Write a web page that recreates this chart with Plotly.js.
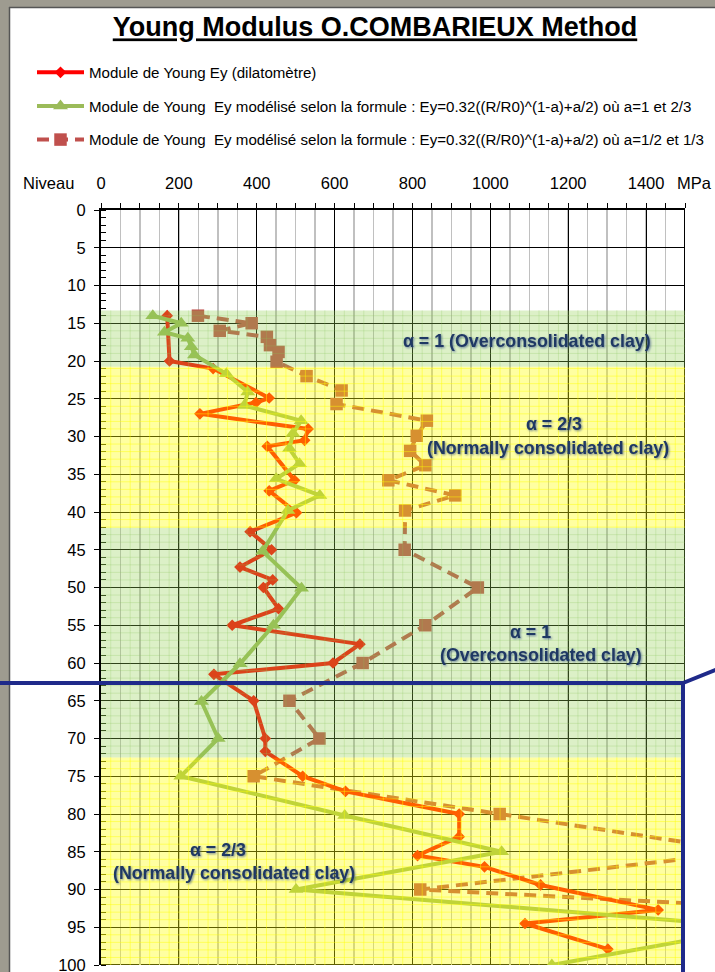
<!DOCTYPE html>
<html>
<head>
<meta charset="utf-8">
<script src="https://cdn.plot.ly/plotly-3.0.1.min.js"></script>
<style>
  html, body { margin: 0; padding: 0; width: 715px; height: 972px; overflow: hidden; background: #ffffff; }
  #chart { position: absolute; left: 0; top: 0; width: 715px; height: 972px; }
</style>
</head>
<body>
<div id="chart"></div>
<script>
// Depth (m) and Young modulus (MPa) for each series
const dilatoDepth = [14, 20, 21, 24.9, 25.5, 27, 29, 30.5, 31.3, 35.8, 37.2, 40.1, 42.6, 45, 47.3, 49, 50, 52.8, 55, 57.5, 60, 61.5, 65, 70, 71.7, 75, 77, 80, 83, 85.5, 87, 89.4, 92.7, 94.5, 97.9];
const dilatoE     = [170, 176, 288, 432, 398, 254, 532, 523, 427, 497, 432, 502, 383, 438, 357, 441, 417, 456, 337, 665, 596, 290, 392, 422, 422, 518, 628, 920, 920, 813, 985, 1129, 1431, 1089, 1302];

const model1Depth = [14, 15, 16.2, 17, 18.1, 19.2, 21.7, 24.1, 25.9, 27.9, 29.6, 31.6, 33.6, 35.6, 37.8, 39.8, 45.2, 50.1, 55, 60.1, 65.1, 70, 75, 80.2, 85, 90, 95, 100];
const model1E     = [133, 206, 163, 223, 232, 240, 322, 377, 368, 514, 493, 484, 510, 450, 562, 480, 415, 515, 443, 357, 258, 301, 205, 626, 1029, 501, 1690, 1158];

const model2Depth = [14, 15, 16, 16.8, 17.9, 18.8, 20.1, 22, 23.9, 25.7, 27.9, 29.9, 31.9, 33.8, 35.8, 37.8, 39.8, 45, 50, 55, 60, 65, 70, 75, 80, 85, 90, 95];
const model2E     = [249, 387, 305, 426, 434, 456, 451, 528, 618, 605, 837, 811, 794, 833, 738, 910, 781, 780, 968, 833, 672, 484, 561, 392, 1024, 1660, 820, 2700];

const seriesNames = [
  'Module de Young Ey (dilatomètre)',
  'Module de Young\u00a0 Ey modélisé selon la formule : Ey=0.32((R/R0)^(1-a)+a/2) où a=1 et 2/3',
  'Module de Young\u00a0 Ey modélisé selon la formule : Ey=0.32((R/R0)^(1-a)+a/2) où a=1/2 et 1/3'
];

// Soil layers (depth limits)
const layerTop    = [13.3, 20.75, 42.1, 72.5];
const layerBottom = [20.75, 42.1, 72.5, 100];
const layerKind   = ['over', 'normal', 'over', 'normal'];

const xTickVals = [0, 200, 400, 600, 800, 1000, 1200, 1400];

// ---- page geometry ----
const W = 715, H = 972, ML = 101, MR = 30, MT = 210, MB = 7;
const PW = W - ML - MR, PH = H - MT - MB;
const px = X => (X - ML) / PW;
const py = Y => 1 - (Y - MT) / PH;

const FONT = '"Liberation Sans", Arial, sans-serif';
const NAVY = '#1f3864';

const traces = [
  {
    x: model2E, y: model2Depth, name: seriesNames[2], mode: 'lines+markers',
    line: { color: '#c0504d', width: 4, dash: '12px,7px' },
    marker: { symbol: 'square', size: 12.5, color: '#c0504d' },
    legendrank: 3, legendgroup: 'c', cliponaxis: true
  },
  {
    x: dilatoE, y: dilatoDepth, name: seriesNames[0], mode: 'lines+markers',
    line: { color: '#ff0000', width: 4 },
    marker: { symbol: 'diamond', size: 9, color: '#ff0000' },
    legendrank: 1, legendgroup: 'a', cliponaxis: true
  },
  {
    x: model1E, y: model1Depth, name: seriesNames[1], mode: 'lines+markers',
    line: { color: '#9bbb59', width: 4 },
    marker: { symbol: 'triangle-up', size: 13, color: '#9bbb59' },
    legendrank: 2, legendgroup: 'b', cliponaxis: true
  }
];

const shapes = [];

// frame of the sheet around the chart
shapes.push({ type: 'rect', xref: 'paper', yref: 'paper', x0: px(-5), x1: px(9), y0: py(980), y1: py(-5), fillcolor: '#9e9b90', line: { width: 0 }, layer: 'below' });
shapes.push({ type: 'rect', xref: 'paper', yref: 'paper', x0: px(-5), x1: px(720), y0: py(7), y1: py(-5), fillcolor: '#9e9b90', line: { width: 0 }, layer: 'below' });
shapes.push({ type: 'line', xref: 'paper', yref: 'paper', x0: px(9.5), x1: px(9.5), y0: py(980), y1: py(7), line: { color: '#555', width: 1.5 }, layer: 'below' });
shapes.push({ type: 'line', xref: 'paper', yref: 'paper', x0: px(9), x1: px(720), y0: py(7.5), y1: py(7.5), line: { color: '#555', width: 1.5 }, layer: 'below' });

// plot border (right and bottom)
shapes.push({ type: 'line', xref: 'x', yref: 'y', x0: 1500, x1: 1500, y0: 0, y1: 100, line: { color: '#000', width: 2 }, layer: 'below' });
shapes.push({ type: 'line', xref: 'x', yref: 'y', x0: 0, x1: 1500, y0: 100, y1: 100, line: { color: '#000', width: 2 }, layer: 'below' });

// translucent layer bands with their fine texture
layerTop.forEach((t, i) => {
  const b = layerBottom[i];
  const normal = layerKind[i] === 'normal';
  shapes.push({
    type: 'rect', xref: 'x', yref: 'y', x0: 0, x1: 1500, y0: t, y1: b,
    fillcolor: normal ? 'rgba(255,255,0,0.37)' : 'rgba(146,208,80,0.32)',
    line: { width: 0 }, layer: 'above'
  });
  const tex = normal ? 'rgba(255,255,0,0.45)' : 'rgba(140,200,90,0.25)';
  for (let v = 25; v < 1500; v += 50) {
    shapes.push({ type: 'line', xref: 'x', yref: 'y', x0: v, x1: v, y0: t, y1: b, line: { color: tex, width: 1 }, layer: 'above' });
  }
  for (let d = Math.ceil(t); d < b; d += 1) {
    if (d % 5 === 0) continue;
    shapes.push({ type: 'line', xref: 'x', yref: 'y', x0: 0, x1: 1500, y0: d, y1: d, line: { color: tex, width: 1 }, layer: 'above' });
  }
});

// navy callout frame
const CALL = '#1f2a8a';
shapes.push({ type: 'line', xref: 'paper', yref: 'paper', x0: px(-5), x1: px(683), y0: py(683), y1: py(683), line: { color: CALL, width: 4 }, layer: 'above' });
shapes.push({ type: 'line', xref: 'paper', yref: 'paper', x0: px(683), x1: px(683), y0: py(683), y1: py(985), line: { color: CALL, width: 4 }, layer: 'above' });
shapes.push({ type: 'line', xref: 'paper', yref: 'paper', x0: px(683), x1: px(760), y0: py(683), y1: py(652), line: { color: CALL, width: 4 }, layer: 'above' });

// layer labels
const labels = [
  { t: 'α = 1 (Overconsolidated clay)', x: 1094, y: 17.35 },
  { t: 'α = 2/3', x: 1164, y: 28.3 },
  { t: '(Normally consolidated clay)', x: 1148, y: 31.5 },
  { t: 'α = 1', x: 1102, y: 55.9 },
  { t: '(Overconsolidated clay)', x: 1130, y: 58.9 },
  { t: 'α = 2/3', x: 300, y: 84.8 },
  { t: '(Normally consolidated clay)', x: 342, y: 87.8 }
];
const annotations = labels.map(l => ({
  xref: 'x', yref: 'y', x: l.x, y: l.y, text: '<b>' + l.t + '</b>', showarrow: false,
  xanchor: 'center', yanchor: 'middle',
  font: { family: FONT, size: 17.8, color: NAVY }
}));
const labelCount = annotations.length;
annotations.push({ xref: 'paper', yref: 'paper', x: px(48), y: py(183), xanchor: 'center', yanchor: 'middle', text: 'Niveau', showarrow: false, font: { family: FONT, size: 16.5, color: '#000' } });
annotations.push({ xref: 'paper', yref: 'paper', x: px(694), y: py(183), xanchor: 'center', yanchor: 'middle', text: 'MPa', showarrow: false, font: { family: FONT, size: 16.5, color: '#000' } });

const layout = {
  width: W, height: H,
  margin: { l: ML, r: MR, t: MT, b: MB, pad: 0, autoexpand: false },
  paper_bgcolor: '#ffffff', plot_bgcolor: '#ffffff',
  font: { family: FONT, size: 16.5, color: '#000' },
  title: {
    text: '<b><span style="text-decoration:underline">Young Modulus O.COMBARIEUX Method</span></b>',
    xref: 'paper', x: px(375), xanchor: 'center', yref: 'container', y: 1 - 27 / H, yanchor: 'middle',
    font: { family: FONT, size: 27, color: '#000' }
  },
  showlegend: true,
  legend: {
    x: px(32), y: py(56), xanchor: 'left', yanchor: 'top',
    bgcolor: 'rgba(0,0,0,0)', font: { family: FONT, size: 15.1, color: '#000' },
    traceorder: 'grouped', tracegroupgap: 11, itemwidth: 47
  },
  xaxis: {
    range: [0, 1500], side: 'top', tickmode: 'array', tickvals: xTickVals,
    showline: true, linewidth: 2, linecolor: '#000',
    ticks: 'outside', ticklen: 5, tickwidth: 1, tickcolor: '#000',
    showgrid: true, gridcolor: '#000', gridwidth: 1, zeroline: false,
    ticklabelstandoff: 7, ticklabeloverflow: 'allow',
    minor: { dtick: 50, tick0: 0, ticks: 'outside', ticklen: 5, tickcolor: '#000', showgrid: true, gridcolor: '#c0c0c0', gridwidth: 1.5 },
    fixedrange: true
  },
  yaxis: {
    range: [100, 0], dtick: 5, tick0: 0,
    showline: true, linewidth: 2, linecolor: '#000',
    ticks: 'outside', ticklen: 5, tickwidth: 1, tickcolor: '#000',
    showgrid: true, gridcolor: '#000', gridwidth: 1, zeroline: false,
    ticklabelstandoff: 5, ticklabeloverflow: 'allow',
    minor: { dtick: 1, tick0: 0, ticks: 'inside', ticklen: 5, tickcolor: '#000', showgrid: false },
    fixedrange: true
  },
  shapes: shapes,
  annotations: annotations
};

Plotly.newPlot('chart', traces, layout, { staticPlot: true, displayModeBar: false }).then(gd => {
  // soft shadow under the layer labels
  gd.querySelectorAll('.annotation').forEach(el => {
    const idx = +el.getAttribute('data-index');
    if (idx < labelCount) el.style.filter = 'drop-shadow(1.5px 1.5px 1px rgba(60,85,135,0.7))';
  });
});
</script>
</body>
</html>
